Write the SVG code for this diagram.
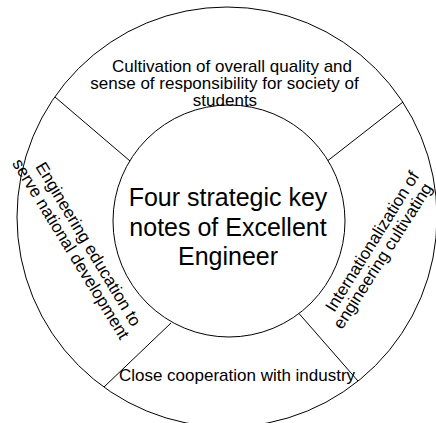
<svg xmlns="http://www.w3.org/2000/svg" width="436" height="423" viewBox="0 0 436 423">
  <style>
    .ring { fill: #fff; stroke: #000; stroke-width: 1; }
    .hub { fill: #fff; stroke: #000; stroke-width: 1; }
    .div { stroke: #000; stroke-width: 1; fill: none; }
    .lbl { font-family: "Liberation Sans", Arial, sans-serif; font-size: 17px; fill: #000; text-anchor: middle; }
    .core { font-family: "Liberation Sans", Arial, sans-serif; font-size: 25px; fill: #000; text-anchor: middle; }
  </style>
  <rect width="436" height="423" fill="#fff"/>

  <!-- outer ring -->
  <g id="ring">
    <circle class="ring" cx="227" cy="217" r="210"/>
  </g>

  <!-- radial dividers between the four segments -->
  <g id="connectors">
    <line class="div" x1="55" y1="97" x2="130" y2="161"/>
    <line class="div" x1="403" y1="102" x2="328" y2="160.5"/>
    <line class="div" x1="104" y1="387" x2="171" y2="323"/>
    <line class="div" x1="358" y1="381" x2="299" y2="313.5"/>
  </g>

  <!-- central hub -->
  <g id="hub">
    <circle class="hub" cx="229" cy="221" r="116"/>
    <text class="core" x="228" y="206">Four strategic key</text>
    <text class="core" x="228" y="235.5">notes of Excellent</text>
    <text class="core" x="228" y="265">Engineer</text>
  </g>

  <!-- top segment -->
  <g id="seg-top">
    <text class="lbl" x="232" y="72">Cultivation of overall quality and</text>
    <text class="lbl" x="224.5" y="89">sense of responsibility for society of</text>
    <text class="lbl" x="225" y="105.5">students</text>
  </g>

  <!-- left segment -->
  <g id="seg-left">
    <text class="lbl" transform="translate(83.5,247) rotate(59)">Engineering education to</text>
    <text class="lbl" transform="translate(66,252) rotate(58.5)">serve national development</text>
  </g>

  <!-- right segment -->
  <g id="seg-right">
    <text class="lbl" transform="translate(377,244.5) rotate(-58)">Internationalization of</text>
    <text class="lbl" transform="translate(387.5,259) rotate(-57.5)">engineering cultivating</text>
  </g>

  <!-- bottom segment -->
  <g id="seg-bottom">
    <text class="lbl" x="237" y="381">Close cooperation with industry</text>
  </g>
</svg>
